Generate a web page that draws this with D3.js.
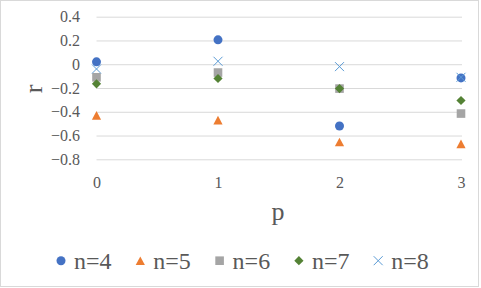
<!DOCTYPE html>
<html>
<head>
<meta charset="utf-8">
<script src="https://cdn.jsdelivr.net/npm/d3@7"></script>
<style>
  body { margin: 0; background: #fff; }
</style>
</head>
<body>
<script>
// data
const pValues = [0, 1, 2, 3];
const yTicks = [-0.8, -0.6, -0.4, -0.2, 0, 0.2, 0.4];
const seriesNames = ["n=4", "n=5", "n=6", "n=7", "n=8"];
const n4 = [0.02, 0.205, -0.52, -0.115];
const n5 = [-0.43, -0.47, -0.655, -0.67];
const n6 = [-0.11, -0.07, -0.205, -0.415];
const n7 = [-0.165, -0.12, -0.205, -0.305];
const n8 = [-0.04, 0.025, -0.02, -0.11];

const seriesValues = [n4, n5, n6, n7, n8];
const colors = ["#4472C4", "#ED7D31", "#A5A5A5", "#548235", "#5B9BD5"];
const shapes = ["circle", "triangle", "square", "diamond", "cross"];
const font = "'Liberation Serif', 'DejaVu Serif', serif";

const width = 481, height = 288;
const margin = { top: 16.7, right: 20, bottom: 128.7, left: 96.5 };

const svg = d3.select("body").append("svg")
    .attr("width", width)
    .attr("height", height)
    .attr("font-family", font);

// chart border
svg.append("rect")
    .attr("x", 0.5).attr("y", 0.5)
    .attr("width", 478).attr("height", 286)
    .attr("fill", "#fff")
    .attr("stroke", "#D9D9D9");

const x = d3.scaleLinear().domain([0, 3]).range([margin.left, width - margin.right]);
const y = d3.scaleLinear().domain([-0.8, 0.4]).range([height - margin.bottom, margin.top]);

// y axis + gridlines
const yAxis = svg.append("g")
    .attr("transform", "translate(" + margin.left + ",0)")
    .call(d3.axisLeft(y)
        .tickValues(yTicks)
        .tickSize(-(width - margin.right - margin.left + 1))
        .tickPadding(16.5)
        .tickFormat(d => d === 0 ? "0" : d3.format(".1f")(d)));
yAxis.attr("font-family", font);
yAxis.select(".domain").remove();
yAxis.selectAll("line").attr("stroke", "#D9D9D9");
yAxis.selectAll("text").attr("font-size", 16).attr("fill", "#595959");

// x axis labels
const xAxis = svg.append("g")
    .attr("transform", "translate(0," + y(-0.8) + ")")
    .call(d3.axisBottom(x).tickValues(pValues).tickSize(0).tickPadding(17)
        .tickFormat(d3.format("d")));
xAxis.attr("font-family", font);
xAxis.select(".domain").remove();
xAxis.selectAll("text").attr("font-size", 16).attr("fill", "#595959");

// axis titles
svg.append("text")
    .attr("x", 278).attr("y", 220)
    .attr("text-anchor", "middle")
    .attr("font-size", 26)
    .attr("fill", "#595959")
    .text("p");

svg.append("text")
    .attr("transform", "translate(42,89) rotate(-90)")
    .attr("text-anchor", "middle")
    .attr("font-size", 26)
    .attr("fill", "#595959")
    .text("r");

// marker drawing
function drawMarker(g, shape, color) {
    if (shape === "circle") {
        g.append("circle").attr("r", 4.5).attr("fill", color);
    } else if (shape === "triangle") {
        g.append("path").attr("d", "M0,-4.3L4.6,4.3L-4.6,4.3Z").attr("fill", color);
    } else if (shape === "square") {
        g.append("rect").attr("x", -4.3).attr("y", -4.3)
            .attr("width", 8.6).attr("height", 8.6).attr("fill", color);
    } else if (shape === "diamond") {
        g.append("path").attr("d", "M0,-4.6L4.6,0L0,4.6L-4.6,0Z").attr("fill", color);
    } else {
        g.append("path").attr("d", "M-4.5,-4.5L4.5,4.5M-4.5,4.5L4.5,-4.5")
            .attr("stroke", color).attr("stroke-width", 1).attr("fill", "none");
    }
}

// points
seriesValues.forEach((vals, s) => {
    svg.append("g").selectAll("g")
        .data(vals)
        .enter().append("g")
        .attr("transform", (d, i) => "translate(" + x(pValues[i]) + "," + y(d) + ")")
        .each(function() { drawMarker(d3.select(this), shapes[s], colors[s]); });
});

// legend
const legend = svg.append("g").attr("transform", "translate(61,260.7)");
seriesNames.forEach((name, s) => {
    const item = legend.append("g").attr("transform", "translate(" + (s * 79.3) + ",0)");
    drawMarker(item, shapes[s], colors[s]);
    item.append("text")
        .attr("x", 13).attr("y", 8.3)
        .attr("font-size", 24)
        .attr("fill", "#595959")
        .text(name);
});
</script>
</body>
</html>
